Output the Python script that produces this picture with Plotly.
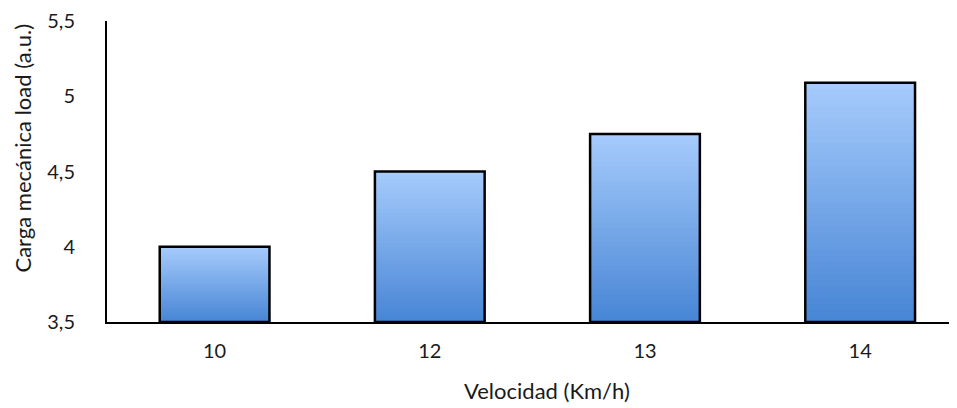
import plotly.graph_objects as go

# data
velocidad = ["10", "12", "13", "14"]
carga = [4.0, 4.5, 4.75, 5.09]
base_y = 3.5

# gradient: light top -> darker bottom
top_rgb = (166, 203, 252)
bot_rgb = (72, 134, 214)
n_layers = 40

fig = go.Figure()

# stack shrinking bars to fake a vertical gradient fill
for k in range(n_layers):
    f = 1 - k / n_layers
    t = k / (n_layers - 1)
    rgb = tuple(int(top_rgb[i] + (bot_rgb[i] - top_rgb[i]) * t) for i in range(3))
    fig.add_trace(go.Bar(
        x=velocidad,
        y=[(v - base_y) * f for v in carga],
        base=base_y,
        width=0.51,
        marker=dict(color="rgb(%d,%d,%d)" % rgb, line=dict(width=0)),
        hoverinfo="skip",
        showlegend=False,
    ))

# outline
fig.add_trace(go.Bar(
    x=velocidad,
    y=[v - base_y for v in carga],
    base=base_y,
    width=0.51,
    marker=dict(color="rgba(0,0,0,0)", line=dict(color="black", width=2.5)),
    showlegend=False,
))

# page body has an 8px default margin, so the figure is a bit smaller
fig.update_layout(
    width=949, height=400,
    margin=dict(l=99, r=0, t=13, b=86),
    barmode="overlay",
    plot_bgcolor="white", paper_bgcolor="white",
    separators=",.",
    font=dict(family="Lato", size=22, color="#1a1a1a"),
)
fig.update_xaxes(
    type="category",
    range=[-0.5, 3.45],
    showline=True, linecolor="black", linewidth=2,
    showgrid=False, ticks="", ticklabelstandoff=10,
    tickfont=dict(size=20),
    automargin=False,
)
fig.update_yaxes(
    range=[3.5, 5.5], dtick=0.5, tick0=3.5,
    showline=True, linecolor="black", linewidth=2,
    showgrid=False, zeroline=False, ticks="", ticklabelstandoff=26,
    tickfont=dict(size=20),
    ticklabeloverflow="allow",
    automargin=False,
)

# axis titles placed as in the reference
fig.add_annotation(text="Velocidad (Km/h)", xref="paper", yref="paper",
                   x=0.518, y=-0.228, xanchor="center", yanchor="middle",
                   showarrow=False)
fig.add_annotation(text="Carga mecánica load (a.u.)", xref="paper", yref="paper",
                   x=-0.0994, y=0.578, xanchor="center", yanchor="middle",
                   textangle=-90, showarrow=False)

fig.write_html("out.html")
